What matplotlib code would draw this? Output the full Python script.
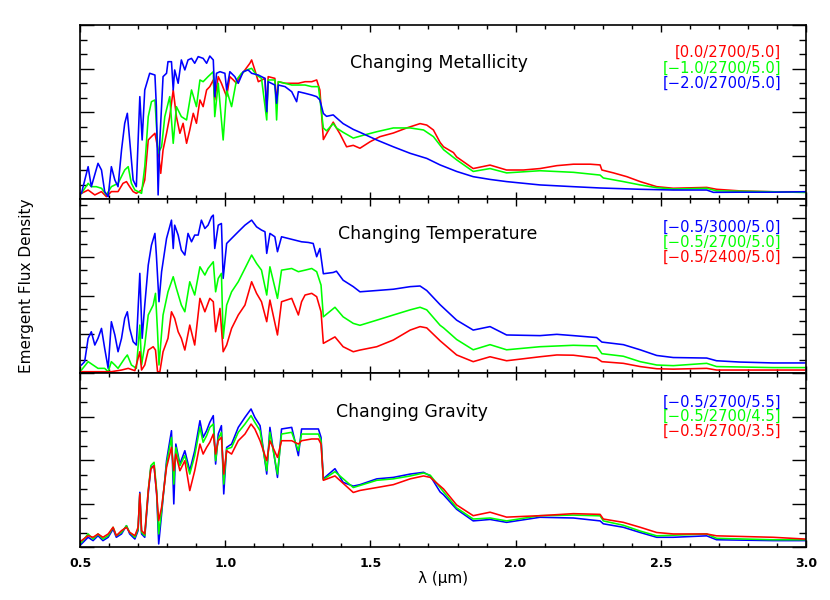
import matplotlib
matplotlib.use("Agg")
import matplotlib.pyplot as plt
from matplotlib.ticker import MultipleLocator, NullFormatter

plt.rcParams['font.family'] = ['DejaVu Sans']

# ---------------- data (wavelength in micron, flux in arbitrary units) -------------
met_red = [(0.505,0.39),(0.528,0.62),(0.551,0.28),(0.574,0.51),(0.591,0.16),(0.608,0.51),(0.631,0.51),(0.648,1.08),(0.660,1.2),(0.671,0.85),(0.683,0.51),(0.694,0.39),(0.712,0.62),(0.723,1.31),(0.735,4.07),(0.746,4.3),(0.758,4.53),(0.769,3.38),(0.778,1.77),(0.786,3.38),(0.798,4.53),(0.809,5.68),(0.821,7.52),(0.832,5.68),(0.844,4.53),(0.855,5.22),(0.867,3.84),(0.878,4.76),(0.890,5.91),(0.901,5.22),(0.913,6.83),(0.924,6.37),(0.936,7.52),(0.947,7.75),(0.959,8.21),(0.964,6.83),(0.976,8.44),(0.987,7.98),(1.005,7.06),(1.016,8.44),(1.028,8.21),(1.039,7.98),(1.051,8.44),(1.068,8.9),(1.085,9.36),(1.091,9.59),(1.102,8.9),(1.114,8.09),(1.137,8.32),(1.143,5.91),(1.148,8.44),(1.171,8.32),(1.177,6.6),(1.183,8.09),(1.206,7.98),(1.229,7.98),(1.252,7.98),(1.275,8.09),(1.298,8.09),(1.315,8.21),(1.326,7.52),(1.338,4.1),(1.349,4.5),(1.372,5.3),(1.383,4.9),(1.395,4.5),(1.418,3.6),(1.441,3.7),(1.464,3.5),(1.499,3.95),(1.533,4.3),(1.579,4.55),(1.625,4.9),(1.671,5.2),(1.694,5.1),(1.717,4.76),(1.740,3.9),(1.752,3.6),(1.786,3.2),(1.797,2.9),(1.854,2.1),(1.912,2.34),(1.969,2.0),(2.027,2.0),(2.084,2.1),(2.142,2.3),(2.199,2.4),(2.257,2.4),(2.291,2.35),(2.297,2.0),(2.337,1.8),(2.383,1.54),(2.429,1.2),(2.486,0.85),(2.543,0.74),(2.658,0.8),(2.692,0.67),(2.772,0.56),(2.887,0.5),(2.996,0.5)]

met_green = [(0.505,0.39),(0.528,1.08),(0.539,0.85),(0.556,0.85),(0.574,0.74),(0.591,0.28),(0.608,0.85),(0.631,1.08),(0.654,2.0),(0.666,2.23),(0.677,1.08),(0.689,0.62),(0.712,0.39),(0.723,2.23),(0.735,5.68),(0.746,6.71),(0.758,6.83),(0.769,3.15),(0.781,3.61),(0.792,5.68),(0.809,7.06),(0.821,3.84),(0.832,6.37),(0.849,5.68),(0.867,5.45),(0.884,7.52),(0.901,6.37),(0.913,8.21),(0.924,8.09),(0.941,8.44),(0.959,8.78),(0.964,5.68),(0.976,7.98),(0.993,4.07),(1.005,7.52),(1.022,6.37),(1.039,8.21),(1.056,8.67),(1.074,8.9),(1.091,9.01),(1.108,8.55),(1.125,8.32),(1.143,5.45),(1.148,8.21),(1.171,8.21),(1.177,5.45),(1.183,8.09),(1.206,7.98),(1.229,7.86),(1.252,7.86),(1.275,7.86),(1.298,7.75),(1.321,7.75),(1.338,4.9),(1.349,4.7),(1.372,5.2),(1.383,4.9),(1.406,4.6),(1.441,4.2),(1.476,4.4),(1.522,4.64),(1.579,4.9),(1.637,4.9),(1.683,4.76),(1.717,4.3),(1.752,3.4),(1.797,2.7),(1.854,1.9),(1.912,2.1),(1.969,1.8),(2.084,1.95),(2.199,1.84),(2.291,1.65),(2.302,1.45),(2.371,1.2),(2.429,0.97),(2.486,0.78),(2.543,0.69),(2.658,0.74),(2.692,0.56),(2.887,0.5),(2.996,0.45)]

met_blue = [(0.505,0.39),(0.528,2.23),(0.539,0.85),(0.562,2.46),(0.574,2.0),(0.585,0.51),(0.597,0.16),(0.608,2.23),(0.620,1.31),(0.631,0.85),(0.643,3.38),(0.654,5.22),(0.663,5.91),(0.671,4.07),(0.683,1.31),(0.694,0.85),(0.706,7.06),(0.714,4.07),(0.723,7.52),(0.740,8.67),(0.758,8.55),(0.763,6.37),(0.769,0.28),(0.775,4.07),(0.786,8.44),(0.798,8.67),(0.803,9.47),(0.815,9.47),(0.821,7.52),(0.826,8.9),(0.838,7.98),(0.849,9.59),(0.861,8.9),(0.872,9.59),(0.884,9.7),(0.895,9.36),(0.907,9.82),(0.924,9.7),(0.936,9.36),(0.947,9.86),(0.959,9.59),(0.964,7.06),(0.970,8.67),(0.982,8.78),(0.999,8.67),(1.005,7.52),(1.016,8.78),(1.033,8.44),(1.045,7.98),(1.062,8.78),(1.079,8.9),(1.091,8.67),(1.114,8.55),(1.137,8.32),(1.143,6.02),(1.148,8.09),(1.171,7.86),(1.177,6.6),(1.183,7.86),(1.206,7.75),(1.229,7.4),(1.246,6.71),(1.252,7.4),(1.275,7.29),(1.298,7.17),(1.315,7.06),(1.326,6.83),(1.338,5.9),(1.349,5.7),(1.372,5.8),(1.383,5.6),(1.406,5.2),(1.441,4.8),(1.464,4.6),(1.522,4.07),(1.579,3.6),(1.637,3.15),(1.694,2.8),(1.740,2.35),(1.797,1.9),(1.854,1.54),(1.912,1.35),(1.969,1.2),(2.084,0.97),(2.199,0.85),(2.291,0.76),(2.429,0.67),(2.543,0.62),(2.658,0.62),(2.681,0.46),(2.772,0.47),(2.887,0.47),(2.996,0.5)]

tem_blue = [(0.505,0.62),(0.516,0.88),(0.528,2.69),(0.539,3.2),(0.551,2.17),(0.562,2.69),(0.574,3.46),(0.585,1.91),(0.597,0.36),(0.608,3.98),(0.620,2.95),(0.631,1.65),(0.643,2.69),(0.654,4.24),(0.663,4.75),(0.671,3.46),(0.683,2.43),(0.694,2.17),(0.706,7.73),(0.714,2.69),(0.723,5.27),(0.735,8.37),(0.746,9.92),(0.758,10.83),(0.763,9.15),(0.772,5.53),(0.781,7.86),(0.798,10.44),(0.815,11.86),(0.821,9.66),(0.826,11.47),(0.838,10.7),(0.849,9.53),(0.861,9.15),(0.872,10.83),(0.884,10.18),(0.895,10.7),(0.907,10.7),(0.918,11.86),(0.930,11.21),(0.941,11.47),(0.953,12.12),(0.959,12.25),(0.964,9.66),(0.976,11.47),(0.987,11.6),(0.993,7.34),(1.005,10.05),(1.022,10.44),(1.045,10.96),(1.068,11.47),(1.091,11.86),(1.108,11.34),(1.125,11.09),(1.137,10.96),(1.143,9.28),(1.154,10.83),(1.171,10.57),(1.180,9.41),(1.194,10.57),(1.217,10.44),(1.240,10.31),(1.263,10.18),(1.286,10.13),(1.303,10.05),(1.315,9.02),(1.326,9.66),(1.338,7.7),(1.372,7.8),(1.383,7.9),(1.406,7.2),(1.441,6.7),(1.464,6.3),(1.522,6.4),(1.579,6.5),(1.637,6.7),(1.671,6.75),(1.694,6.4),(1.740,5.3),(1.797,4.1),(1.854,3.33),(1.912,3.6),(1.969,2.95),(2.084,2.9),(2.142,3.0),(2.199,2.9),(2.279,2.75),(2.297,2.4),(2.371,2.2),(2.429,1.8),(2.486,1.36),(2.543,1.2),(2.658,1.16),(2.692,0.95),(2.772,0.85),(2.887,0.78),(2.996,0.78)]

tem_green = [(0.505,0.23),(0.528,0.88),(0.545,0.62),(0.562,0.36),(0.585,0.36),(0.597,0.1),(0.608,0.88),(0.620,0.62),(0.631,0.36),(0.654,1.14),(0.663,1.4),(0.677,0.62),(0.694,0.36),(0.706,3.72),(0.712,0.62),(0.723,2.17),(0.735,4.5),(0.752,5.27),(0.760,6.18),(0.767,3.2),(0.772,0.62),(0.786,4.5),(0.803,6.3),(0.821,7.47),(0.832,6.56),(0.849,5.27),(0.861,4.75),(0.878,7.08),(0.895,6.05),(0.913,8.24),(0.930,7.6),(0.941,8.11),(0.959,8.63),(0.967,6.3),(0.976,7.34),(0.987,7.73),(0.993,2.69),(1.005,5.27),(1.022,6.3),(1.045,7.08),(1.068,8.11),(1.091,9.15),(1.108,8.5),(1.125,7.98),(1.143,6.05),(1.154,8.24),(1.180,5.79),(1.194,7.98),(1.229,8.11),(1.252,7.86),(1.275,7.98),(1.298,8.11),(1.315,7.86),(1.330,6.82),(1.338,4.36),(1.378,5.1),(1.406,4.36),(1.441,3.85),(1.464,3.7),(1.522,4.1),(1.579,4.5),(1.637,4.9),(1.671,5.1),(1.694,4.9),(1.740,3.7),(1.752,3.5),(1.797,2.6),(1.854,1.8),(1.912,2.2),(1.969,1.8),(2.084,2.04),(2.199,2.15),(2.279,2.1),(2.297,1.5),(2.371,1.3),(2.429,0.88),(2.486,0.62),(2.543,0.57),(2.658,0.75),(2.692,0.5),(2.887,0.42),(2.996,0.42)]

tem_red = [(0.505,0.1),(0.551,0.1),(0.608,0.1),(0.643,0.23),(0.666,0.36),(0.689,0.18),(0.706,1.65),(0.712,0.23),(0.723,0.62),(0.735,1.78),(0.752,2.04),(0.760,1.78),(0.767,0.1),(0.775,0.1),(0.786,1.65),(0.803,2.69),(0.815,4.75),(0.826,4.24),(0.838,3.2),(0.849,2.69),(0.861,1.78),(0.878,3.72),(0.895,2.17),(0.913,5.79),(0.930,4.75),(0.947,5.79),(0.959,5.53),(0.967,3.2),(0.982,5.01),(0.993,1.65),(1.005,2.17),(1.022,3.46),(1.045,4.5),(1.068,5.27),(1.091,7.08),(1.108,6.18),(1.125,5.53),(1.143,3.98),(1.154,5.66),(1.180,2.95),(1.194,5.53),(1.229,5.79),(1.252,4.5),(1.263,5.53),(1.275,6.05),(1.298,6.18),(1.315,5.92),(1.330,4.75),(1.338,2.3),(1.378,2.8),(1.406,2.04),(1.441,1.65),(1.464,1.78),(1.522,2.04),(1.579,2.56),(1.637,3.33),(1.671,3.6),(1.694,3.5),(1.740,2.5),(1.797,1.4),(1.854,0.88),(1.912,1.26),(1.969,0.95),(2.084,1.26),(2.142,1.4),(2.199,1.38),(2.279,1.16),(2.297,0.88),(2.371,0.75),(2.429,0.5),(2.486,0.33),(2.543,0.3),(2.658,0.36),(2.692,0.23),(2.887,0.23),(2.996,0.23)]

gra_blue = [(0.505,0.21),(0.528,0.67),(0.545,0.44),(0.562,0.78),(0.579,0.44),(0.597,0.67),(0.614,1.24),(0.625,0.67),(0.643,0.9),(0.660,1.47),(0.671,0.9),(0.689,0.55),(0.700,1.13),(0.706,3.77),(0.712,0.9),(0.723,0.67),(0.735,3.66),(0.744,5.49),(0.755,5.61),(0.764,3.66),(0.771,0.21),(0.781,2.28),(0.798,5.95),(0.815,8.02),(0.823,2.97),(0.830,7.1),(0.844,5.72),(0.861,6.64),(0.878,5.26),(0.895,6.64),(0.913,8.71),(0.924,7.56),(0.936,8.02),(0.947,8.6),(0.959,9.06),(0.967,5.72),(0.976,7.79),(0.987,8.37),(0.995,3.66),(1.005,6.87),(1.022,7.1),(1.045,8.25),(1.068,8.94),(1.089,9.52),(1.102,8.94),(1.120,8.37),(1.143,5.03),(1.154,8.25),(1.180,4.8),(1.194,8.14),(1.229,8.25),(1.252,6.3),(1.263,8.14),(1.298,8.14),(1.321,8.14),(1.330,7.56),(1.338,4.7),(1.349,4.9),(1.378,5.4),(1.406,4.46),(1.441,4.2),(1.464,4.3),(1.522,4.7),(1.579,4.8),(1.637,5.03),(1.683,5.15),(1.706,4.9),(1.740,3.8),(1.752,3.6),(1.797,2.6),(1.854,1.8),(1.912,1.9),(1.969,1.7),(2.084,2.05),(2.199,2.0),(2.291,1.8),(2.302,1.6),(2.371,1.36),(2.429,1.0),(2.486,0.67),(2.543,0.67),(2.658,0.77),(2.692,0.5),(2.887,0.44),(2.996,0.44)]

gra_green = [(0.505,0.32),(0.528,0.9),(0.545,0.55),(0.562,0.9),(0.579,0.55),(0.597,0.78),(0.614,1.36),(0.625,0.78),(0.643,1.01),(0.660,1.47),(0.671,1.01),(0.689,0.67),(0.700,1.24),(0.706,3.66),(0.712,1.01),(0.723,0.78),(0.735,3.89),(0.744,5.61),(0.755,5.84),(0.764,3.89),(0.771,0.9),(0.781,2.51),(0.798,5.72),(0.815,7.56),(0.823,4.34),(0.830,6.87),(0.844,5.61),(0.861,6.3),(0.878,5.03),(0.895,6.3),(0.913,8.25),(0.924,7.22),(0.936,7.68),(0.947,8.25),(0.959,8.48),(0.967,5.95),(0.976,7.45),(0.987,7.91),(0.995,4.34),(1.005,6.76),(1.022,6.87),(1.045,7.91),(1.068,8.48),(1.089,9.06),(1.102,8.6),(1.120,8.02),(1.143,5.26),(1.154,7.91),(1.180,5.03),(1.194,7.79),(1.229,7.91),(1.252,6.64),(1.263,7.79),(1.298,7.79),(1.321,7.79),(1.330,7.33),(1.338,4.65),(1.378,5.2),(1.441,4.1),(1.522,4.6),(1.579,4.7),(1.637,4.9),(1.683,5.1),(1.706,4.95),(1.752,3.8),(1.797,2.7),(1.854,1.93),(1.912,2.0),(1.969,1.8),(2.084,2.16),(2.199,2.2),(2.291,2.15),(2.302,1.8),(2.371,1.5),(2.429,1.1),(2.486,0.77),(2.658,0.9),(2.692,0.6),(2.887,0.5),(2.996,0.5)]

gra_red = [(0.505,0.44),(0.528,0.78),(0.545,0.67),(0.562,0.9),(0.579,0.67),(0.597,0.9),(0.614,1.36),(0.625,0.78),(0.643,1.13),(0.660,1.36),(0.671,1.01),(0.689,0.78),(0.700,1.36),(0.706,3.66),(0.712,1.13),(0.723,0.9),(0.735,3.89),(0.744,5.38),(0.755,5.61),(0.764,3.66),(0.771,1.82),(0.781,2.74),(0.798,5.49),(0.815,6.87),(0.823,5.26),(0.830,6.41),(0.844,5.26),(0.861,5.95),(0.878,3.89),(0.895,5.26),(0.913,7.1),(0.924,6.41),(0.936,6.87),(0.947,7.22),(0.959,7.79),(0.967,6.41),(0.976,7.33),(0.987,7.56),(0.995,5.03),(1.005,6.64),(1.022,6.41),(1.045,7.33),(1.068,7.79),(1.089,8.48),(1.102,8.14),(1.120,7.33),(1.143,5.95),(1.154,7.33),(1.180,6.18),(1.194,7.33),(1.229,7.33),(1.252,7.1),(1.263,7.33),(1.298,7.45),(1.321,7.45),(1.330,7.1),(1.338,4.6),(1.378,4.9),(1.441,3.76),(1.464,3.9),(1.522,4.1),(1.579,4.3),(1.637,4.7),(1.683,4.9),(1.706,4.8),(1.752,4.0),(1.797,2.9),(1.854,2.16),(1.912,2.4),(1.969,2.06),(2.084,2.16),(2.199,2.3),(2.291,2.25),(2.302,1.93),(2.371,1.7),(2.429,1.36),(2.486,1.0),(2.543,0.9),(2.658,0.9),(2.692,0.77),(2.887,0.67),(2.996,0.55)]

panel_titles = ["Changing Metallicity", "Changing Temperature", "Changing Gravity"]
met_labels = ["[0.0/2700/5.0]", "[\u22121.0/2700/5.0]", "[\u22122.0/2700/5.0]"]
tem_labels = ["[\u22120.5/3000/5.0]", "[\u22120.5/2700/5.0]", "[\u22120.5/2400/5.0]"]
gra_labels = ["[\u22120.5/2700/5.5]", "[\u22120.5/2700/4.5]", "[\u22120.5/2700/3.5]"]
x_ticks = [0.5, 1.0, 1.5, 2.0, 2.5, 3.0]
x_ticklabels = ["0.5", "1.0", "1.5", "2.0", "2.5", "3.0"]

RED, GREEN, BLUE = "#ff0000", "#00ff00", "#0000ff"

panels = [
    dict(series=[(met_red, RED), (met_green, GREEN), (met_blue, BLUE)],
         labels=list(zip(met_labels, [RED, GREEN, BLUE])), ylim=12.0,
         title_pos=(0.4945, 0.78)),
    dict(series=[(tem_blue, BLUE), (tem_green, GREEN), (tem_red, RED)],
         labels=list(zip(tem_labels, [BLUE, GREEN, RED])), ylim=13.5,
         title_pos=(0.493, 0.80)),
    dict(series=[(gra_blue, BLUE), (gra_green, GREEN), (gra_red, RED)],
         labels=list(zip(gra_labels, [BLUE, GREEN, RED])), ylim=12.0,
         title_pos=(0.457, 0.775)),
]

fig = plt.figure(figsize=(8.3, 6.0), dpi=100)
left, width = 80 / 830, 726 / 830
tops = [25, 199, 373]
height = 174 / 600
label_rows = [[0.845, 0.753, 0.667], [0.839, 0.753, 0.667], [0.834, 0.749, 0.663]]

for i, p in enumerate(panels):
    bottom = 1 - (tops[i] + 174) / 600
    ax = fig.add_axes([left, bottom, width, height])
    for data, col in p["series"]:
        xs = [d[0] for d in data]
        ys = [d[1] for d in data]
        ax.plot(xs, ys, color=col, lw=1.15)
    ax.set_xlim(0.5, 3.0)
    ax.set_ylim(0, p["ylim"])
    ax.xaxis.set_major_locator(MultipleLocator(0.5))
    ax.xaxis.set_minor_locator(MultipleLocator(0.1))
    ax.yaxis.set_major_locator(MultipleLocator(3))
    ax.yaxis.set_minor_locator(MultipleLocator(1))
    ax.yaxis.set_major_formatter(NullFormatter())
    ax.tick_params(which="both", direction="in", top=True, right=True, width=1.0, color="black")
    ax.tick_params(axis="x", which="major", length=5)
    ax.tick_params(axis="x", which="minor", length=2.6)
    ax.tick_params(axis="y", which="major", length=10)
    ax.tick_params(axis="y", which="minor", length=5)
    for s in ax.spines.values():
        s.set_linewidth(1.2)
    if i < 2:
        ax.xaxis.set_major_formatter(NullFormatter())
    else:
        ax.set_xticks(x_ticks)
        ax.set_xticklabels(x_ticklabels, fontsize=9, fontweight="bold")
        ax.tick_params(axis="x", which="major", pad=7)
    ax.text(p["title_pos"][0], p["title_pos"][1], panel_titles[i], transform=ax.transAxes,
            ha="center", va="center", fontsize=12.5)
    for (txt, col), yy in zip(p["labels"], label_rows[i]):
        ax.text(0.9656, yy, txt, transform=ax.transAxes, ha="right", va="center",
                fontsize=10.6, color=col)

fig.text(443 / 830, 1 - 578 / 600, "\u03bb (\u03bcm)", ha="center", va="center", fontsize=11)
fig.text(27 / 830, 1 - 286 / 600, "Emergent Flux Density", ha="center", va="center",
         rotation=90, fontsize=11)

fig.savefig("out.png", dpi=100)
